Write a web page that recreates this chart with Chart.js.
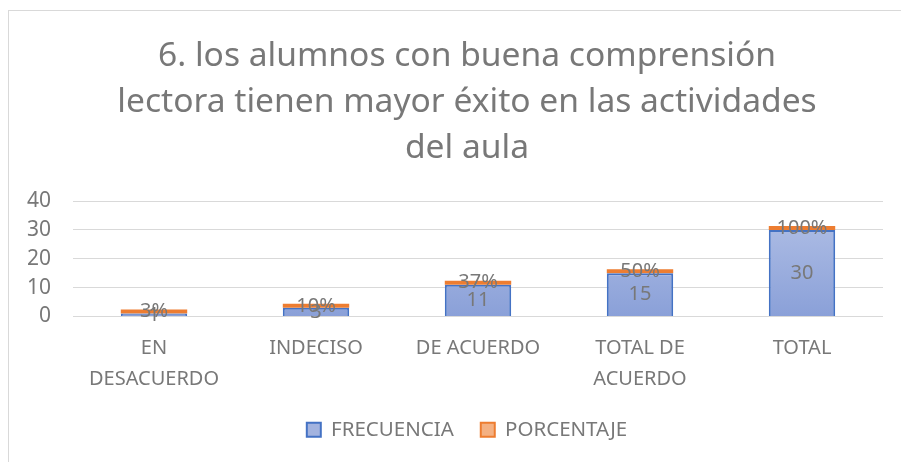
<!DOCTYPE html>
<html>
<head>
<meta charset="utf-8">
<script src="https://cdn.jsdelivr.net/npm/chart.js@4.4.0/dist/chart.umd.min.js"></script>
<style>
    html, body { margin: 0; padding: 0; background: #fff; overflow: hidden; }
    #marco {
        position: absolute; left: 8px; top: 10px; width: 920px; height: 470px;
        border-left: 1px solid #d9d9d9; border-top: 1px solid #d9d9d9;
    }
    #caja { position: absolute; left: 0; top: 0; width: 920px; height: 470px; }
</style>
</head>
<body>
<div id="marco"></div>
<div id="caja"><canvas id="meuGrafico"></canvas></div>
<script>
const categorias = [['EN', 'DESACUERDO'], 'INDECISO', 'DE ACUERDO', ['TOTAL DE', 'ACUERDO'], 'TOTAL'];
const frecuencia = [1, 3, 11, 15, 30];
const porcentaje = [0.03, 0.10, 0.37, 0.50, 1.00];
const ticksY = [0, 10, 20, 30, 40];

const cinza = '#787878';
const fonte = "'Noto Sans', 'Open Sans', sans-serif";

// rótulos de dados no centro de cada segmento
const rotulos = {
    id: 'rotulos',
    afterDatasetsDraw(chart) {
        const ctx = chart.ctx;
        ctx.save();
        ctx.font = '20px ' + fonte;
        ctx.fillStyle = cinza;
        ctx.textAlign = 'center';
        ctx.textBaseline = 'middle';
        chart.data.datasets.forEach((ds, i) => {
            chart.getDatasetMeta(i).data.forEach((bar, j) => {
                const v = ds.data[j];
                const txt = i === 1 ? Math.round(v * 100) + '%' : String(v);
                ctx.fillText(txt, bar.x, (bar.y + bar.base) / 2);
            });
        });
        ctx.restore();
    }
};

function gradienteAzul(context) {
    const area = context.chart.chartArea;
    if (!area) return '#9fb1e0';
    const g = context.chart.ctx.createLinearGradient(0, area.top, 0, area.bottom);
    g.addColorStop(0, '#b4c2e7');
    g.addColorStop(1, '#8aa0d8');
    return g;
}

const ctx = document.getElementById('meuGrafico').getContext('2d');
const grafico = new Chart(ctx, {
    type: 'bar',
    data: {
        labels: categorias,
        datasets: [{
            label: 'FRECUENCIA',
            data: frecuencia,
            backgroundColor: gradienteAzul,
            borderColor: '#4472c4',
            borderWidth: 2,
            borderSkipped: 'bottom'
        }, {
            label: 'PORCENTAJE',
            data: porcentaje,
            backgroundColor: '#ed7d31',
            borderColor: '#ed7d31',
            borderWidth: 0,
            minBarLength: 4
        }]
    },
    options: {
        responsive: true,
        maintainAspectRatio: false,
        animation: false,
        layout: { padding: { left: 20, right: 6, top: 0, bottom: 20 } },
        datasets: { bar: { categoryPercentage: 1, barPercentage: 0.41 } },
        plugins: {
            title: {
                display: true,
                text: ['6. los alumnos con buena comprensión', 'lectora tienen mayor éxito en las actividades', 'del aula'],
                color: cinza,
                font: { family: fonte, size: 33.6, weight: 'normal', lineHeight: '46px' },
                padding: { top: 33, bottom: 30 }
            },
            legend: {
                position: 'bottom',
                labels: {
                    color: cinza,
                    font: { family: fonte, size: 20.5 },
                    boxWidth: 14,
                    boxHeight: 14,
                    padding: 27,
                    generateLabels: chart => {
                        const itens = Chart.defaults.plugins.legend.labels.generateLabels(chart);
                        itens[0].fillStyle = '#a3b3df';
                        itens[0].strokeStyle = '#4472c4';
                        itens[0].lineWidth = 2;
                        itens[1].fillStyle = '#f4b183';
                        itens[1].strokeStyle = '#ed7d31';
                        itens[1].lineWidth = 2;
                        return itens;
                    }
                }
            },
            tooltip: { enabled: false }
        },
        scales: {
            x: {
                stacked: true,
                grid: { display: false },
                border: { display: false },
                ticks: { color: cinza, font: { family: fonte, size: 20, lineHeight: '31px' }, padding: 8, maxRotation: 0 },
                afterFit: s => { s.height = 76; }
            },
            y: {
                stacked: true,
                min: 0,
                max: 40,
                afterBuildTicks: s => { s.ticks = ticksY.map(v => ({ value: v })); },
                grid: { color: '#d9d9d9', lineWidth: 1, drawTicks: false },
                border: { display: false },
                ticks: { color: cinza, font: { family: fonte, size: 21 }, padding: 22 },
                afterFit: s => { s.width = 53; }
            },
            // eixo vazio à direita, só para centralizar título e legenda como no original
            y2: {
                type: 'linear',
                position: 'right',
                grid: { display: false },
                border: { display: false },
                ticks: { display: false },
                afterFit: s => { s.width = 31; }
            }
        }
    },
    plugins: [rotulos]
});
</script>
</body>
</html>
